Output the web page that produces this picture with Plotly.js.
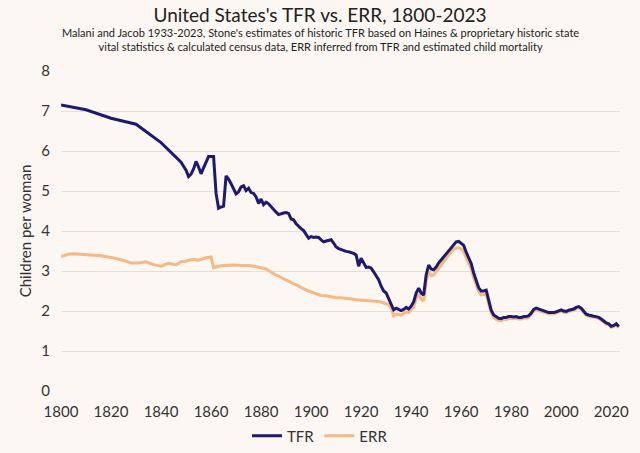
<!DOCTYPE html>
<html>
<head>
<meta charset="utf-8">
<script src="https://cdn.plot.ly/plotly-3.0.1.min.js"></script>
<style>
  html, body { margin: 0; padding: 0; background: #fcf7f2; }
  #chart { width: 640px; height: 453px; }
</style>
</head>
<body>
<div id="chart"></div>
<script>
// TFR (sparse before 1850, yearly after)
const tfrYears = [1800, 1810, 1820, 1830, 1840, 1848, 1849,
  1850, 1851, 1852, 1853, 1854, 1855, 1856, 1857, 1858, 1859,
  1860, 1861, 1862, 1863, 1864, 1865, 1866, 1867, 1868, 1869,
  1870, 1871, 1872, 1873, 1874, 1875, 1876, 1877, 1878, 1879,
  1880, 1881, 1882, 1883, 1884, 1885, 1886, 1887, 1888, 1889,
  1890, 1891, 1892, 1893, 1894, 1895, 1896, 1897, 1898, 1899,
  1900, 1901, 1902, 1903, 1904, 1905, 1906, 1907, 1908, 1909,
  1910, 1911, 1912, 1913, 1914, 1915, 1916, 1917, 1918, 1919,
  1920, 1921, 1922, 1923, 1924, 1925, 1926, 1927, 1928, 1929,
  1930, 1931, 1932, 1933, 1934, 1935, 1936, 1937, 1938, 1939,
  1940, 1941, 1942, 1943, 1944, 1945, 1946, 1947, 1948, 1949,
  1950, 1951, 1952, 1953, 1954, 1955, 1956, 1957, 1958, 1959,
  1960, 1961, 1962, 1963, 1964, 1965, 1966, 1967, 1968, 1969,
  1970, 1971, 1972, 1973, 1974, 1975, 1976, 1977, 1978, 1979,
  1980, 1981, 1982, 1983, 1984, 1985, 1986, 1987, 1988, 1989,
  1990, 1991, 1992, 1993, 1994, 1995, 1996, 1997, 1998, 1999,
  2000, 2001, 2002, 2003, 2004, 2005, 2006, 2007, 2008, 2009,
  2010, 2011, 2012, 2013, 2014, 2015, 2016, 2017, 2018, 2019,
  2020, 2021, 2022, 2023];
const tfr = [7.15, 7.03, 6.82, 6.67, 6.21, 5.72, 5.62,
  5.52, 5.36, 5.42, 5.55, 5.74, 5.60, 5.43, 5.58, 5.72, 5.86,
  5.86, 5.86, 4.94, 4.57, 4.60, 4.62, 5.38, 5.30, 5.18, 5.05,
  4.93, 4.98, 5.10, 5.13, 5.01, 5.07, 4.96, 4.94, 4.85, 4.69,
  4.80, 4.66, 4.72, 4.68, 4.60, 4.53, 4.47, 4.41, 4.44, 4.45,
  4.46, 4.44, 4.30, 4.28, 4.18, 4.11, 4.06, 4.01, 3.92, 3.82,
  3.86, 3.84, 3.85, 3.84, 3.78, 3.73, 3.75, 3.77, 3.78, 3.70,
  3.60, 3.56, 3.53, 3.51, 3.49, 3.48, 3.46, 3.44, 3.40, 3.12,
  3.32, 3.22, 3.09, 3.10, 3.07, 2.98, 2.88, 2.78, 2.62, 2.50,
  2.45, 2.30, 2.17, 2.03, 2.07, 2.04, 2.01, 2.04, 2.09, 2.05,
  2.12, 2.23, 2.45, 2.57, 2.45, 2.40, 2.90, 3.15, 3.05, 3.03,
  3.10, 3.20, 3.28, 3.34, 3.43, 3.50, 3.60, 3.68, 3.73, 3.74,
  3.70, 3.64, 3.47, 3.33, 3.19, 2.95, 2.78, 2.58, 2.50, 2.50,
  2.52, 2.27, 2.02, 1.90, 1.85, 1.82, 1.81, 1.84, 1.84, 1.86,
  1.86, 1.85, 1.86, 1.84, 1.84, 1.86, 1.86, 1.88, 1.95, 2.04,
  2.07, 2.05, 2.03, 2.00, 1.98, 1.96, 1.96, 1.96, 1.98, 2.01,
  2.03, 2.00, 1.99, 2.02, 2.04, 2.05, 2.09, 2.11, 2.07, 2.00,
  1.92, 1.90, 1.88, 1.87, 1.86, 1.84, 1.80, 1.75, 1.70, 1.68,
  1.62, 1.64, 1.68, 1.61];

// ERR
const errYears = [1800, 1803, 1805, 1808, 1812, 1816, 1820, 1824, 1828, 1831,
  1834, 1837, 1840, 1843, 1846, 1848, 1850, 1853, 1855, 1857,
  1858, 1860, 1861, 1862, 1864, 1866, 1869, 1872, 1875, 1877,
  1880, 1882, 1885, 1888, 1890, 1893, 1896, 1899, 1902, 1904,
  1906, 1908, 1910, 1912, 1914, 1916, 1918, 1920, 1922, 1925,
  1927, 1929, 1931, 1932, 1933, 1934, 1935, 1936, 1937, 1938, 1939,
  1940, 1941, 1942, 1943, 1944, 1945, 1946, 1947, 1948, 1949,
  1950, 1951, 1952, 1953, 1954, 1955, 1956, 1957, 1958, 1959,
  1960, 1961, 1962, 1963, 1964, 1965, 1966, 1967, 1968, 1969,
  1970, 1971, 1972, 1973, 1974, 1975, 1976, 1977, 1978, 1979,
  1980, 1981, 1982, 1983, 1984, 1985, 1986, 1987, 1988, 1989,
  1990, 1991, 1992, 1993, 1994, 1995, 1996, 1997, 1998, 1999,
  2000, 2001, 2002, 2003, 2004, 2005, 2006, 2007, 2008, 2009,
  2010, 2011, 2012, 2013, 2014, 2015, 2016, 2017, 2018, 2019,
  2020, 2021, 2022, 2023];
const err = [3.36, 3.42, 3.43, 3.42, 3.40, 3.38, 3.34, 3.28, 3.20, 3.20,
  3.23, 3.16, 3.12, 3.19, 3.15, 3.23, 3.25, 3.29, 3.27, 3.31,
  3.33, 3.35, 3.08, 3.10, 3.13, 3.14, 3.15, 3.14, 3.14, 3.12,
  3.08, 3.05, 2.93, 2.84, 2.76, 2.67, 2.58, 2.50, 2.43, 2.39,
  2.38, 2.35, 2.33, 2.33, 2.32, 2.30, 2.28, 2.27, 2.27, 2.26,
  2.24, 2.20, 2.16, 2.08, 1.88, 1.92, 1.92, 1.90, 1.94, 1.98, 1.96,
  2.02, 2.10, 2.32, 2.42, 2.30, 2.25, 2.75, 2.98, 2.88, 2.90,
  2.98, 3.07, 3.16, 3.23, 3.31, 3.40, 3.48, 3.55, 3.57, 3.58,
  3.55, 3.48, 3.33, 3.20, 3.06, 2.83, 2.67, 2.48, 2.40, 2.41,
  2.42, 2.18, 1.95, 1.84, 1.79, 1.77, 1.76, 1.79, 1.79, 1.81,
  1.81, 1.81, 1.82, 1.80, 1.80, 1.82, 1.82, 1.84, 1.91, 2.00,
  2.03, 2.01, 1.99, 1.96, 1.95, 1.93, 1.93, 1.93, 1.95, 1.98,
  2.00, 1.97, 1.96, 1.99, 2.01, 2.02, 2.06, 2.08, 2.04, 1.97,
  1.89, 1.87, 1.85, 1.84, 1.83, 1.81, 1.77, 1.72, 1.67, 1.65,
  1.59, 1.61, 1.65, 1.58];

const xTicks = [1800, 1820, 1840, 1860, 1880, 1900, 1920, 1940, 1960, 1980, 2000, 2020];
const yTicks = [0, 1, 2, 3, 4, 5, 6, 7, 8];

const bg = '#fcf7f2';
const font = 'Lato, "Open Sans", sans-serif';

var traceErr = {
  x: errYears,
  y: err,
  mode: 'lines',
  type: 'scatter',
  name: 'ERR',
  legendrank: 2,
  line: { color: '#f7b884', width: 3 }
};

var traceTfr = {
  x: tfrYears,
  y: tfr,
  mode: 'lines',
  type: 'scatter',
  name: 'TFR',
  legendrank: 1,
  line: { color: '#1d1a70', width: 3 }
};

var layout = {
  width: 640,
  height: 453,
  paper_bgcolor: bg,
  plot_bgcolor: bg,
  font: { family: font, color: '#333', size: 15 },
  margin: { l: 61, r: 20, t: 71, b: 62, autoexpand: false },
  title: {
    text: "United States's TFR vs. ERR, 1800-2023",
    font: { family: font, size: 19, color: '#222' },
    x: 0.5,
    xanchor: 'center',
    y: 0.98,
    yanchor: 'top'
  },
  annotations: [{
    text: "Malani and Jacob 1933-2023, Stone's estimates of historic TFR based on Haines &amp; proprietary historic state<br>vital statistics &amp; calculated census data, ERR inferred from TFR and estimated child mortality",
    xref: 'paper', yref: 'paper',
    x: 0.5 - 0.5 * (61 - 20) / 559, y: 1,
    xanchor: 'center', yanchor: 'bottom',
    yshift: 16,
    showarrow: false,
    font: { family: font, size: 11, color: '#222' }
  }],
  xaxis: {
    range: [1800, 2023.5],
    tickvals: xTicks,
    showgrid: false,
    zeroline: false,
    showline: false,
    ticks: '',
    ticklabelstandoff: 10,
    tickfont: { size: 15, color: '#333' }
  },
  yaxis: {
    range: [0, 8],
    tickvals: yTicks,
    showgrid: true,
    gridcolor: '#e3dfdb',
    gridwidth: 1,
    zeroline: false,
    showline: false,
    ticks: '',
    ticklabelstandoff: 10,
    tickfont: { size: 15, color: '#333' },
    title: { text: 'Children per woman', font: { size: 15, color: '#333' }, standoff: 6 }
  },
  showlegend: true,
  legend: {
    orientation: 'h',
    x: 0.5,
    xref: 'container',
    xanchor: 'center',
    y: 17 / 453,
    yref: 'container',
    yanchor: 'middle',
    bgcolor: 'rgba(0,0,0,0)',
    font: { size: 15, color: '#333' }
  }
};

Plotly.newPlot('chart', [traceErr, traceTfr], layout, { displayModeBar: false, staticPlot: true });
</script>
</body>
</html>
